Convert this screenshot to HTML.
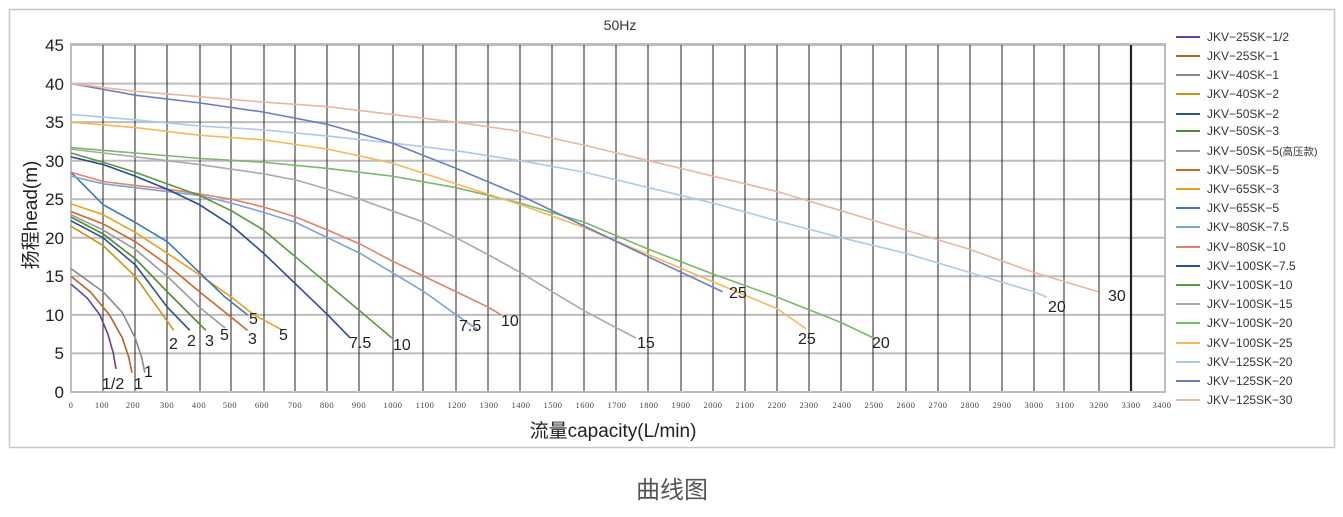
<!DOCTYPE html>
<html><head><meta charset="utf-8"><style>
body{margin:0;background:#fff;width:1343px;height:512px;overflow:hidden;font-family:"Liberation Sans","Noto Sans CJK SC",sans-serif}
</style></head><body>
<svg width="1343" height="512" xmlns="http://www.w3.org/2000/svg" font-family="Liberation Sans, Noto Sans CJK SC, sans-serif">
<rect x="9.5" y="9.5" width="1325" height="438" fill="#fff" stroke="#c8c8c8" stroke-width="1.5"/>
<text x="620" y="30" font-size="14" text-anchor="middle" fill="#333">50Hz</text>
<g stroke="#bdbdbd" stroke-width="2">
<line x1="71" y1="45" x2="1165" y2="45"/><line x1="71" y1="83.6" x2="1165" y2="83.6"/><line x1="71" y1="122.1" x2="1165" y2="122.1"/><line x1="71" y1="160.7" x2="1165" y2="160.7"/><line x1="71" y1="199.2" x2="1165" y2="199.2"/><line x1="71" y1="237.8" x2="1165" y2="237.8"/><line x1="71" y1="276.3" x2="1165" y2="276.3"/><line x1="71" y1="314.9" x2="1165" y2="314.9"/><line x1="71" y1="353.4" x2="1165" y2="353.4"/>
</g>
<g stroke="#2a2222" stroke-width="1">
<line x1="103" y1="45" x2="103" y2="392"/><line x1="135" y1="45" x2="135" y2="392"/><line x1="167" y1="45" x2="167" y2="392"/><line x1="200" y1="45" x2="200" y2="392"/><line x1="231" y1="45" x2="231" y2="392"/><line x1="264" y1="45" x2="264" y2="392"/><line x1="295" y1="45" x2="295" y2="392"/><line x1="327" y1="45" x2="327" y2="392"/><line x1="359" y1="45" x2="359" y2="392"/><line x1="393" y1="45" x2="393" y2="392"/><line x1="423" y1="45" x2="423" y2="392"/><line x1="456" y1="45" x2="456" y2="392"/><line x1="488" y1="45" x2="488" y2="392"/><line x1="520" y1="45" x2="520" y2="392"/><line x1="552" y1="45" x2="552" y2="392"/><line x1="584" y1="45" x2="584" y2="392"/><line x1="616" y1="45" x2="616" y2="392"/><line x1="648" y1="45" x2="648" y2="392"/><line x1="681" y1="45" x2="681" y2="392"/><line x1="713" y1="45" x2="713" y2="392"/><line x1="745" y1="45" x2="745" y2="392"/><line x1="777" y1="45" x2="777" y2="392"/><line x1="809" y1="45" x2="809" y2="392"/><line x1="841" y1="45" x2="841" y2="392"/><line x1="873" y1="45" x2="873" y2="392"/><line x1="906" y1="45" x2="906" y2="392"/><line x1="938" y1="45" x2="938" y2="392"/><line x1="970" y1="45" x2="970" y2="392"/><line x1="1002" y1="45" x2="1002" y2="392"/><line x1="1034" y1="45" x2="1034" y2="392"/><line x1="1064" y1="45" x2="1064" y2="392"/><line x1="1099" y1="45" x2="1099" y2="392"/><line x1="1131" y1="45" x2="1131" y2="392" stroke-width="2.2"/>
</g>
<rect x="71" y="44" width="1094" height="348" fill="none" stroke="#bdbdbd" stroke-width="2"/>
<g font-size="17" fill="#222" text-anchor="end">
<text x="64" y="51">45</text><text x="64" y="90">40</text><text x="64" y="128">35</text><text x="64" y="167">30</text><text x="64" y="205">25</text><text x="64" y="244">20</text><text x="64" y="282">15</text><text x="64" y="321">10</text><text x="64" y="359">5</text><text x="64" y="398">0</text>
</g>
<g font-size="8.5" fill="#444" font-family="Liberation Serif, serif" text-anchor="middle" letter-spacing="0.5">
<text x="71" y="408">0</text><text x="102" y="408">100</text><text x="133" y="408">200</text><text x="167" y="408">300</text><text x="199" y="408">400</text><text x="230" y="408">500</text><text x="262" y="408">600</text><text x="295" y="408">700</text><text x="327" y="408">800</text><text x="359" y="408">900</text><text x="393" y="408">1000</text><text x="425" y="408">1100</text><text x="457" y="408">1200</text><text x="489" y="408">1300</text><text x="521" y="408">1400</text><text x="553" y="408">1500</text><text x="585" y="408">1600</text><text x="617" y="408">1700</text><text x="649" y="408">1800</text><text x="681" y="408">1900</text><text x="713" y="408">2000</text><text x="745" y="408">2100</text><text x="777" y="408">2200</text><text x="809" y="408">2300</text><text x="842" y="408">2400</text><text x="874" y="408">2500</text><text x="906" y="408">2600</text><text x="938" y="408">2700</text><text x="970" y="408">2800</text><text x="1002" y="408">2900</text><text x="1034" y="408">3000</text><text x="1065" y="408">3100</text><text x="1099" y="408">3200</text><text x="1131" y="408">3300</text><text x="1162" y="408">3400</text>
</g>
<text transform="translate(37,215) rotate(-90)" font-size="19" text-anchor="middle" fill="#222">扬程head(m)</text>
<text x="613" y="437" font-size="19" text-anchor="middle" fill="#222">流量capacity(L/min)</text>
<text x="672" y="498" font-size="24" text-anchor="middle" fill="#555">曲线图</text>

<g transform="translate(71,392) scale(0.321,-7.71)" fill="none" stroke-width="1.6" stroke-linejoin="round">
<g style="vector-effect:non-scaling-stroke">
<polyline vector-effect="non-scaling-stroke" stroke="#6a3d9a" points="0,14 50,12.2 90,10 115,7.5 132,5 140,3"/>
<polyline vector-effect="non-scaling-stroke" stroke="#b5651d" points="0,15 60,13 120,10 160,7 180,4.5 190,2.5"/>
<polyline vector-effect="non-scaling-stroke" stroke="#888" points="0,16 100,13 160,10.3 200,7 220,4.5 230,2.5"/>
<polyline vector-effect="non-scaling-stroke" stroke="#c8960c" points="0,21.5 100,19 200,15 260,11.5 320,8"/>
<polyline vector-effect="non-scaling-stroke" stroke="#2c4f8f" points="0,22.2 100,20 200,16.5 300,11 370,8"/>
<polyline vector-effect="non-scaling-stroke" stroke="#4e8a2e" points="0,22.7 100,20.5 200,17.3 300,13 420,8"/>
<polyline vector-effect="non-scaling-stroke" stroke="#999" points="0,23 100,21 200,18.5 300,15 400,11 480,8.3"/>
<polyline vector-effect="non-scaling-stroke" stroke="#d0652a" points="0,23.4 100,21.8 200,19.5 300,16.5 400,13 490,10 550,8"/>
<polyline vector-effect="non-scaling-stroke" stroke="#e8a020" points="0,24.4 100,23 200,20.7 300,18 400,15.2 500,12.3 570,10 660,8"/>
<polyline vector-effect="non-scaling-stroke" stroke="#3d7ab8" points="0,28.5 100,24.3 200,22 300,19.5 400,15.5 480,12.3 550,10"/>
<polyline vector-effect="non-scaling-stroke" stroke="#7ba3d4" points="0,28 100,27 200,26.5 300,26 400,25.5 500,24.5 600,23.3 700,22 800,20 900,18 1000,15.5 1100,13 1200,10 1270,8"/>
<polyline vector-effect="non-scaling-stroke" stroke="#e0826a" points="0,28.5 100,27.3 200,26.8 300,26.3 400,25.7 500,25 600,24 700,22.7 800,21 900,19.2 1000,17 1100,15 1200,13 1300,11 1340,10"/>
<polyline vector-effect="non-scaling-stroke" stroke="#2a4d94" points="0,30.5 100,29.5 200,28 300,26.3 400,24.3 500,21.6 600,18 700,14 800,10 870,7"/>
<polyline vector-effect="non-scaling-stroke" stroke="#5a9a3a" points="0,31 100,29.8 200,28.5 300,27 400,25.5 500,23.5 600,21 700,17.5 800,14 900,10.5 1000,7"/>
<polyline vector-effect="non-scaling-stroke" stroke="#aaa" points="0,31.5 200,30.5 400,29.5 600,28.3 700,27.5 800,26.3 900,25 1000,23.5 1100,22 1200,20 1300,17.8 1400,15.5 1500,13 1600,10.5 1700,8.3 1760,7"/>
<polyline vector-effect="non-scaling-stroke" stroke="#7ab86a" points="0,31.7 200,31 400,30.3 600,29.8 800,29 1000,28 1200,26.5 1400,24.5 1600,22 1800,18.5 2000,15.3 2200,12.3 2400,9 2500,7"/>
<polyline vector-effect="non-scaling-stroke" stroke="#f2b85a" points="0,35 200,34.3 400,33.3 600,32.7 800,31.5 1000,29.7 1200,27 1400,24.3 1600,21.3 1800,17.8 2000,14.3 2200,10.8 2290,8.2"/>
<polyline vector-effect="non-scaling-stroke" stroke="#aec8e8" points="0,36 200,35.3 400,34.5 600,34 800,33.2 1000,32.3 1200,31.3 1400,30 1600,28.5 1800,26.5 2000,24.5 2200,22.2 2400,20 2600,18 2800,15.5 3000,13 3040,12.3"/>
<polyline vector-effect="non-scaling-stroke" stroke="#6a7fbf" points="0,40 200,38.5 400,37.5 600,36.3 800,34.7 1000,32.3 1200,29 1400,25.5 1600,21.5 1800,17.5 2030,13"/>
<polyline vector-effect="non-scaling-stroke" stroke="#ebb5a0" points="0,40 200,39 400,38.3 600,37.6 800,37 1000,36 1200,35 1400,33.8 1600,32 1800,30 2000,28 2200,26 2400,23.5 2600,21 2800,18.5 3000,15.5 3200,13"/>
</g></g>

<g font-size="16" fill="#222">
<text x="102" y="389">1/2</text><text x="134" y="389">1</text><text x="144" y="377">1</text>
<text x="169" y="349">2</text><text x="187" y="346">2</text><text x="205" y="346">3</text><text x="220" y="340">5</text><text x="248" y="344">3</text><text x="249" y="324">5</text><text x="279" y="340">5</text>
<text x="349" y="348">7.5</text><text x="393" y="350">10</text><text x="459" y="331">7.5</text><text x="501" y="326">10</text>
<text x="637" y="348">15</text><text x="872" y="348">20</text><text x="798" y="344">25</text><text x="1048" y="312">20</text><text x="729" y="298">25</text><text x="1108" y="301">30</text>
</g>

<g font-size="12" fill="#333" stroke-width="2">
<line x1="1176" y1="37" x2="1200" y2="37" stroke="#6a3d9a"/><text x="1207" y="41">JKV−25SK−1/2</text>
<line x1="1176" y1="56" x2="1200" y2="56" stroke="#b5651d"/><text x="1207" y="60">JKV−25SK−1</text>
<line x1="1176" y1="75" x2="1200" y2="75" stroke="#888"/><text x="1207" y="79">JKV−40SK−1</text>
<line x1="1176" y1="94" x2="1200" y2="94" stroke="#c8960c"/><text x="1207" y="98">JKV−40SK−2</text>
<line x1="1176" y1="114" x2="1200" y2="114" stroke="#2c4f8f"/><text x="1207" y="118">JKV−50SK−2</text>
<line x1="1176" y1="131" x2="1200" y2="131" stroke="#4e8a2e"/><text x="1207" y="135">JKV−50SK−3</text>
<line x1="1176" y1="151" x2="1200" y2="151" stroke="#999"/><text x="1207" y="155">JKV−50SK−5<tspan font-size="10.5">(高压款)</tspan></text>
<line x1="1176" y1="170" x2="1200" y2="170" stroke="#d0652a"/><text x="1207" y="174">JKV−50SK−5</text>
<line x1="1176" y1="189" x2="1200" y2="189" stroke="#e8a020"/><text x="1207" y="193">JKV−65SK−3</text>
<line x1="1176" y1="208" x2="1200" y2="208" stroke="#3d7ab8"/><text x="1207" y="212">JKV−65SK−5</text>
<line x1="1176" y1="227" x2="1200" y2="227" stroke="#7ba3d4"/><text x="1207" y="231">JKV−80SK−7.5</text>
<line x1="1176" y1="247" x2="1200" y2="247" stroke="#e0826a"/><text x="1207" y="251">JKV−80SK−10</text>
<line x1="1176" y1="266" x2="1200" y2="266" stroke="#2a4d94"/><text x="1207" y="270">JKV−100SK−7.5</text>
<line x1="1176" y1="285" x2="1200" y2="285" stroke="#5a9a3a"/><text x="1207" y="289">JKV−100SK−10</text>
<line x1="1176" y1="304" x2="1200" y2="304" stroke="#aaa"/><text x="1207" y="308">JKV−100SK−15</text>
<line x1="1176" y1="323" x2="1200" y2="323" stroke="#7ab86a"/><text x="1207" y="327">JKV−100SK−20</text>
<line x1="1176" y1="343" x2="1200" y2="343" stroke="#f2b85a"/><text x="1207" y="347">JKV−100SK−25</text>
<line x1="1176" y1="362" x2="1200" y2="362" stroke="#aec8e8"/><text x="1207" y="366">JKV−125SK−20</text>
<line x1="1176" y1="381" x2="1200" y2="381" stroke="#6a7fbf"/><text x="1207" y="385">JKV−125SK−20</text>
<line x1="1176" y1="400" x2="1200" y2="400" stroke="#ebb5a0"/><text x="1207" y="404">JKV−125SK−30</text>
</g>
</svg>
</body></html>
